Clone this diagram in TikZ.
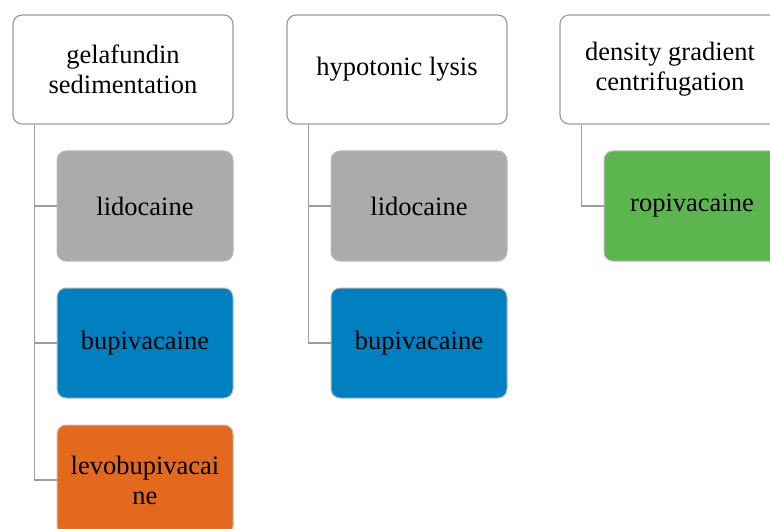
\documentclass[tikz,border=0pt]{standalone}
\usepackage{fontspec}
\setmainfont{Liberation Serif}
\definecolor{cgray}{HTML}{ABABAB}
\definecolor{cblue}{HTML}{0080C0}
\definecolor{corange}{HTML}{E2691D}
\definecolor{cgreen}{HTML}{5DB54F}
\definecolor{cline}{HTML}{9C9C9C}
\begin{document}
\begin{tikzpicture}[x=1pt,y=-1pt,
  topbox/.style={draw=cline, line width=1.2pt, rounded corners=9pt, fill=white,
    minimum width=220pt, minimum height=109pt, align=center, inner sep=0pt,
    font=\fontsize{26.5}{30}\selectfont},
  childbox/.style={draw=cline!70, line width=1pt, rounded corners=9pt, fill=#1,
    minimum width=176pt, minimum height=110pt, align=center, inner sep=0pt,
    font=\fontsize{26.5}{30}\selectfont},
  conn/.style={draw=cline, line width=1.4pt}]
\useasboundingbox (0,0) rectangle (770,529);
\clip (0,0) rectangle (770,529);
% column 1
\node[topbox] (g) at (123,69.5) {gelafundin\\sedimentation};
\node[childbox=cgray] (l1) at (145,206) {lidocaine};
\node[childbox=cblue] (b1) at (145,343) {bupivacaine};
\node[childbox=corange] (lv) at (145,480) {levobupivacai\\ne};
\draw[conn] ([xshift=22pt]g.south west) |- (l1.west);
\draw[conn] ([xshift=22pt]g.south west) |- (b1.west);
\draw[conn] ([xshift=22pt]g.south west) |- (lv.west);
% column 2
\node[topbox] (h) at (397,69.5) {hypotonic lysis};
\node[childbox=cgray] (l2) at (419,206) {lidocaine};
\node[childbox=cblue] (b2) at (419,343) {bupivacaine};
\draw[conn] ([xshift=22pt]h.south west) |- (l2.west);
\draw[conn] ([xshift=22pt]h.south west) |- (b2.west);
% column 3
\node[topbox] (d) at (670,69.5) {density gradient\\centrifugation};
\node[childbox=cgreen] (r) at (692,206) {ropivacaine};
\draw[conn] ([xshift=22pt]d.south west) |- (r.west);
\end{tikzpicture}
\end{document}
